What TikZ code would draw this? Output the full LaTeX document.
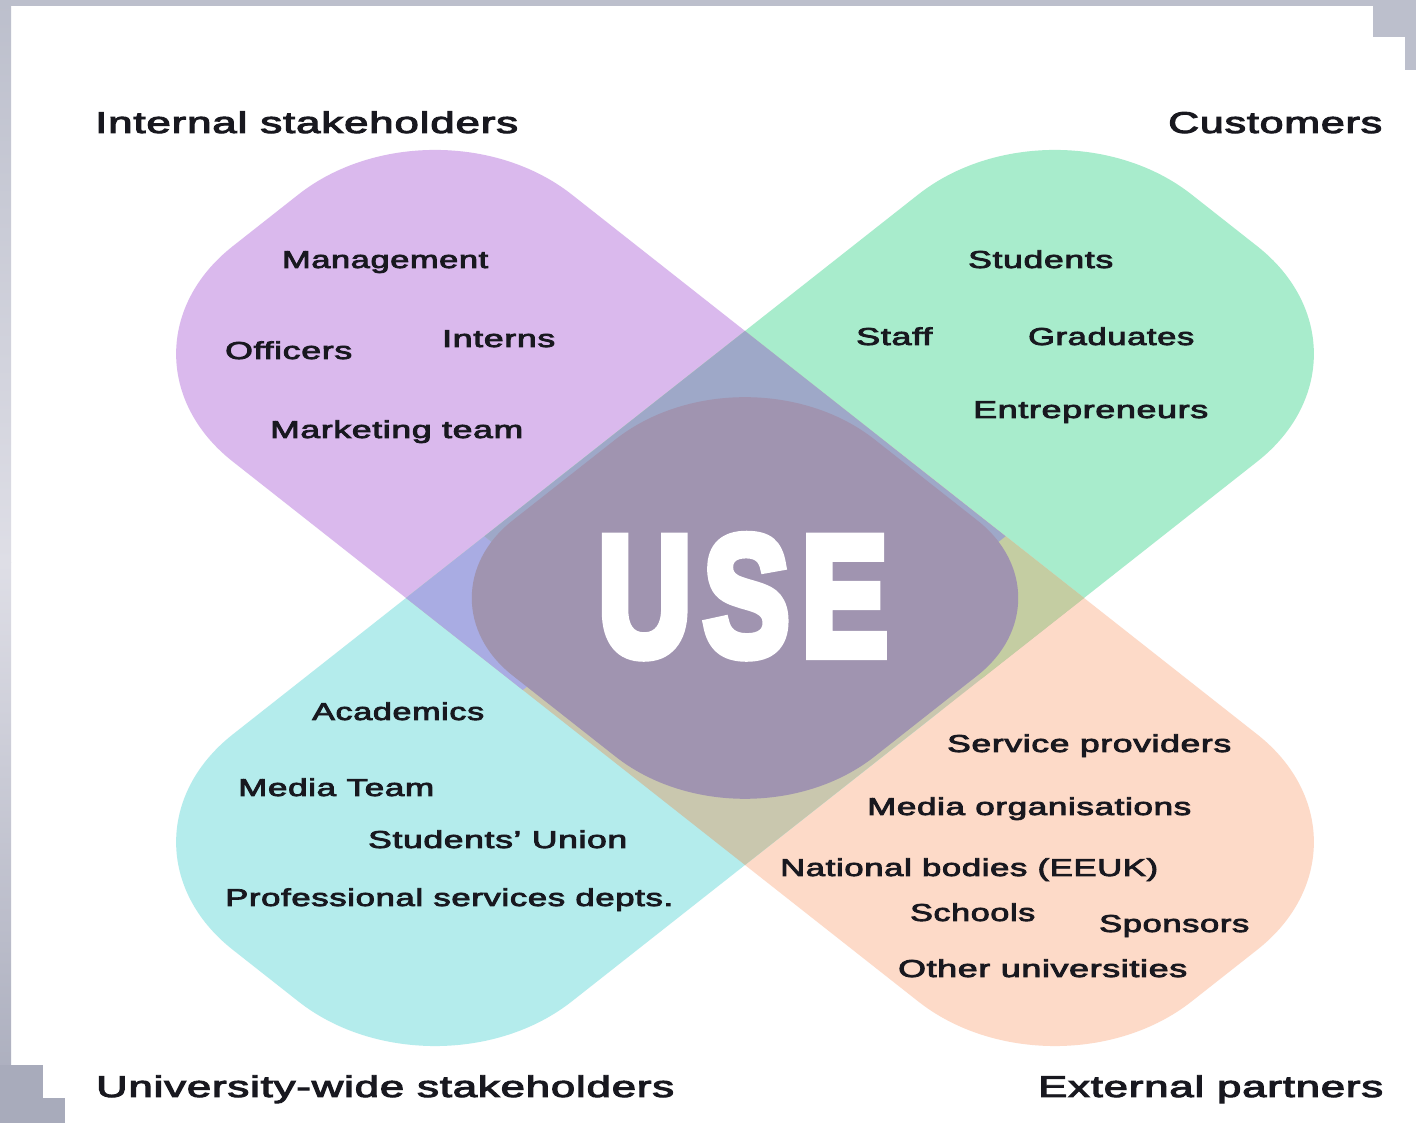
\documentclass[tikz,border=0pt]{standalone}
\usepackage{fontspec}
\usepackage{graphicx}
\setmainfont{Liberation Sans}
\newfontfamily\labfont[LetterSpace=2,FakeBold=3]{Liberation Sans}
\newfontfamily\usefnt[LetterSpace=9,BoldFeatures={FakeBold=6,LetterSpace=9}]{Liberation Sans}
\definecolor{cPur}{HTML}{DAB9ED}
\definecolor{cGrn}{HTML}{A8ECCC}
\definecolor{cCya}{HTML}{B4ECEC}
\definecolor{cPch}{HTML}{FDDAC8}
\definecolor{cPG}{HTML}{9EA8C8}
\definecolor{cPC}{HTML}{A9ACE3}
\definecolor{cGP}{HTML}{C4CDA2}
\definecolor{cCP}{HTML}{C9C7AE}
\definecolor{cDisk}{HTML}{A094B0}
\definecolor{cTxt}{HTML}{18181F}
\definecolor{cFrameA}{HTML}{BCBFCC}
\definecolor{cFrameB}{HTML}{DEDEE6}
\definecolor{cFrameC}{HTML}{A8ABBB}
% rounded rectangle with per-corner radii (BL, BR, TR, TL)
\newcommand{\rrect}[8]{({#1+#5},#2) -- ({#3-#6},#2) arc[start angle=-90,end angle=0,radius=#6] -- (#3,{#4-#7}) arc[start angle=0,end angle=90,radius=#7] -- ({#1+#8},#4) arc[start angle=90,end angle=180,radius=#8] -- (#1,{#2+#5}) arc[start angle=180,end angle=270,radius=#5] -- cycle}
\newcommand{\purP}{\rrect{-0.7071}{-0.25}{0.7071}{2.0}{0.15}{0.15}{0.57}{0.57}}
\newcommand{\pchP}{\rrect{-0.7071}{-2.0}{0.7071}{0.25}{0.57}{0.57}{0.15}{0.15}}
\newcommand{\grnP}{\rrect{-0.25}{-0.7071}{2.0}{0.7071}{0.15}{0.57}{0.57}{0.15}}
\newcommand{\cyaP}{\rrect{-2.0}{-0.7071}{0.25}{0.7071}{0.57}{0.15}{0.15}{0.57}}
\newcommand{\fitw}[2]{\resizebox{#1pt}{\height}{#2}}
\begin{document}
\begin{tikzpicture}[x=1pt,y=1pt,
  lab/.style={anchor=base west, inner sep=0pt, text=cTxt, font=\labfont\fontsize{24.4}{26}\selectfont},
  hdr/.style={anchor=base west, inner sep=0pt, text=cTxt, font=\labfont\fontsize{30}{32}\selectfont}]
\useasboundingbox (0,0) rectangle (1416,1123);
\fill[white] (0,0) rectangle (1416,1123);
% screenshot frame
\fill[cFrameA] (0,1117) rectangle (1416,1123);
\shade[top color=cFrameA, bottom color=cFrameB] (0,560) rectangle (11,1123);
\shade[top color=cFrameB, bottom color=cFrameC] (0,0) rectangle (11,560);
\fill[cFrameA] (1373,1086) rectangle (1416,1123);
\fill[cFrameA] (1405,1053) rectangle (1416,1086);
\fill[cFrameC] (0,25) rectangle (43,58);
\fill[cFrameC] (0,0) rectangle (65,25);
% lobes, overlaps and centre
\begin{scope}[shift={(745,525)}, xscale=339, yscale=267]
 \begin{scope}[rotate=45]
  \fill[cPur] \purP;
  \fill[cGrn] \grnP;
  \fill[cPch] \pchP;
  \fill[cCya] \cyaP;
  % central square: overlap colours
  \fill[cCP] (-0.7071,-0.7071) rectangle (0.7071,0.7071);
  \fill[cGP] (0.28,-0.7071) rectangle (0.7071,-0.38);
  \fill[cPC] (-0.7071,0.22) rectangle (-0.38,0.7071);
  \fill[cPG] (-0.38,-0.38) rectangle (0.7071,0.7071);
  % centre shape: rounded square, caps top/bottom R1, left/right R2
  \fill[cDisk] \rrect{-0.69}{-0.69}{0.69}{0.69}{0.54}{0.41}{0.54}{0.41};
 \end{scope}
\end{scope}
\node[anchor=base, inner sep=0pt, text=white] (use) at (743,468) {\resizebox{290pt}{119pt}{\usefnt\bfseries USE}};
% headings
\node[hdr] (h1) at (95,990) {\fitw{423}{Internal stakeholders}};
\node[hdr] (h2) at (1168,990) {\fitw{214}{Customers}};
\node[hdr] (h3) at (96,26) {\fitw{578}{University-wide stakeholders}};
\node[hdr] (h4) at (1038,26) {\fitw{345}{External partners}};
% internal
\node[lab] (l1) at (282,855) {\fitw{206}{Management}};
\node[lab] (l2) at (225,764) {\fitw{127}{Officers}};
\node[lab] (l3) at (442,776) {\fitw{113}{Interns}};
\node[lab] (l4) at (270,685) {\fitw{253}{Marketing team}};
% customers
\node[lab] (c1) at (968,855) {\fitw{145}{Students}};
\node[lab] (c2) at (856,778) {\fitw{76}{Staff}};
\node[lab] (c3) at (1028,778) {\fitw{166}{Graduates}};
\node[lab] (c4) at (973,705) {\fitw{235}{Entrepreneurs}};
% university-wide
\node[lab] (u1) at (312,403) {\fitw{172}{Academics}};
\node[lab] (u2) at (238,327) {\fitw{196}{Media Team}};
\node[lab] (u3) at (368,275) {\fitw{259}{Students’ Union}};
\node[lab] (u4) at (225,217) {\fitw{448}{Professional services depts.}};
% external
\node[lab] (e1) at (947,371) {\fitw{284}{Service providers}};
\node[lab] (e2) at (867,308) {\fitw{324}{Media organisations}};
\node[lab] (e3) at (780,247) {\fitw{378}{National bodies (EEUK)}};
\node[lab] (e4) at (910,202) {\fitw{125}{Schools}};
\node[lab] (e5) at (1099,191) {\fitw{150}{Sponsors}};
\node[lab] (e6) at (898,146) {\fitw{289}{Other universities}};
\end{tikzpicture}
\end{document}
